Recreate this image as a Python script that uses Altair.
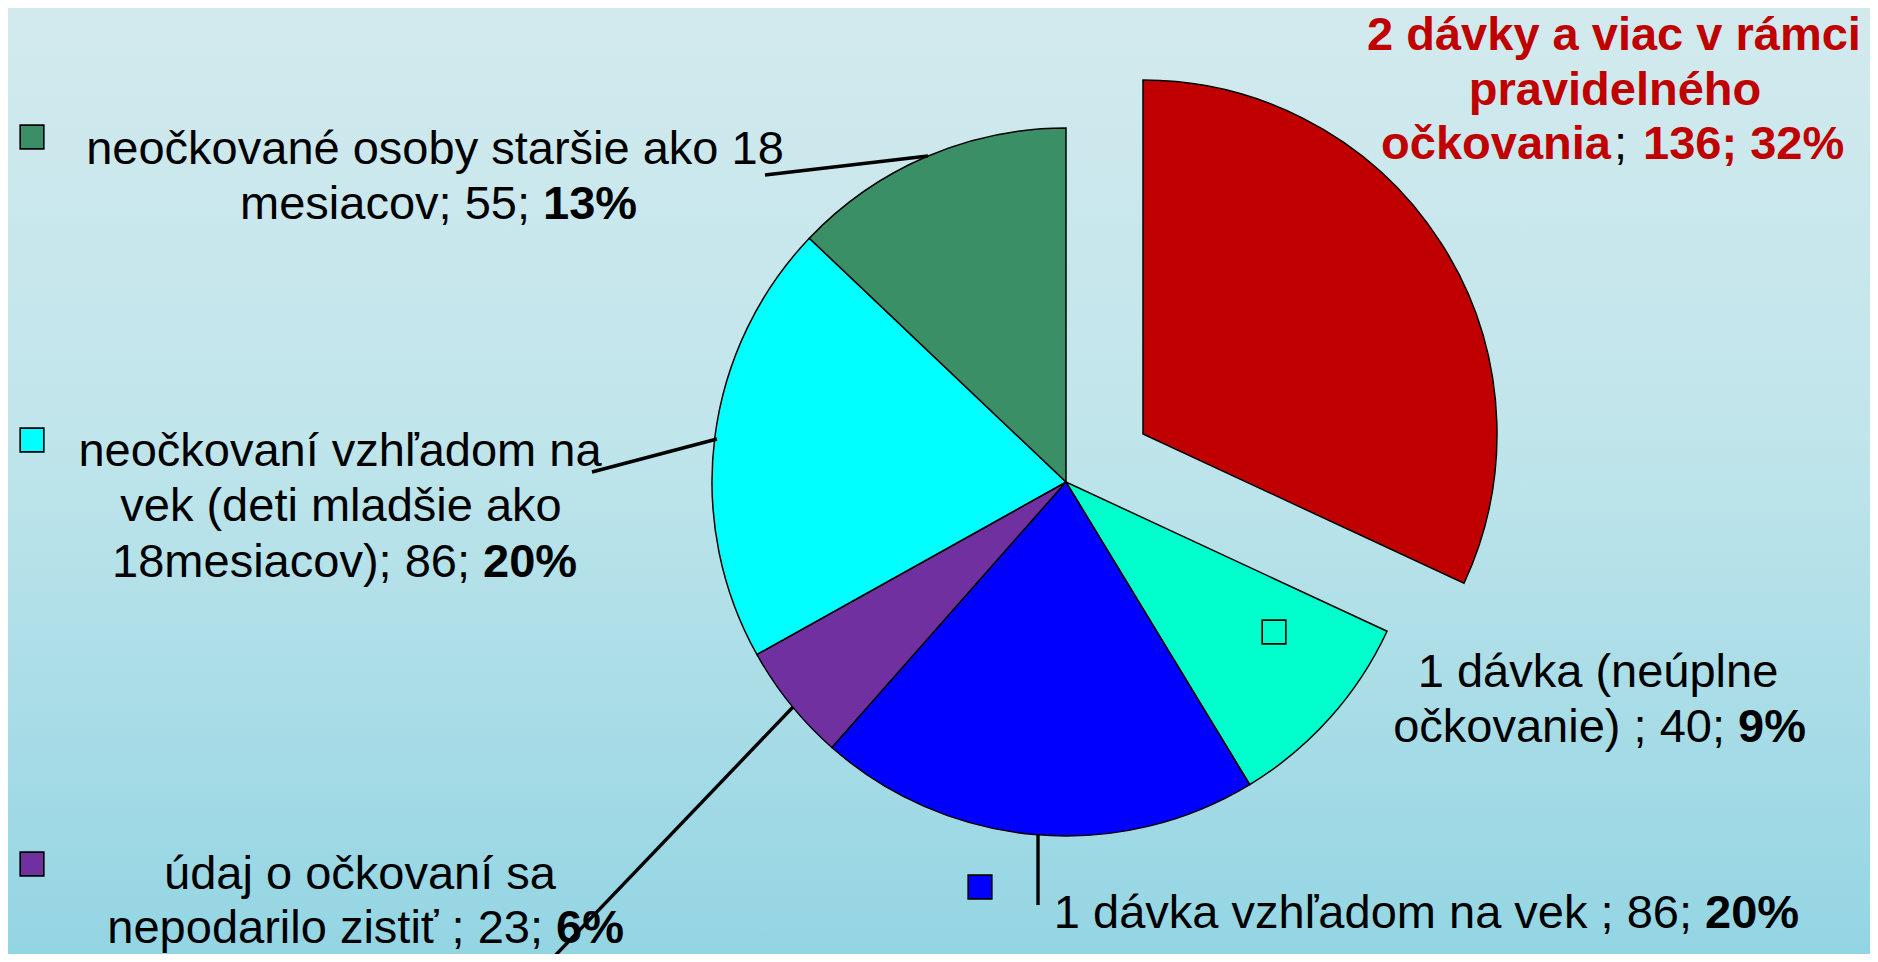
import altair as alt
import pandas as pd

# ---------------- data ----------------
CATEGORIES = [
    "2 dávky a viac v rámci pravidelného očkovania",
    "1 dávka (neúplne očkovanie)",
    "1 dávka vzhľadom na vek",
    "údaj o očkovaní sa nepodarilo zistiť",
    "neočkovaní vzhľadom na vek (deti mladšie ako 18mesiacov)",
    "neočkované osoby staršie ako 18 mesiacov",
]
COUNTS = [136, 40, 86, 23, 86, 55]
PERCENTS = ["32%", "9%", "20%", "6%", "20%", "13%"]
COLORS = ["#C00000", "#00FFCC", "#0000FF", "#7030A0", "#00FFFF", "#3A8F66"]

# ---------------- layout (page pixel coordinates) ----------------
MARGIN = 8
W, H = 1862, 946
FONT = "Liberation Sans"
FS = 47
CX, CY, R = 1066, 482, 354
EXPLODE_DX, EXPLODE_DY = 77, -48

# legend-key squares (centre x, centre y) per category, same order as CATEGORIES
KEY_POS = [None, (1274, 632), (980, 887), (32, 864), (32, 440), (32, 137)]

# label segments: text, x, y(baseline), align, weight, colour
SEGMENTS = [
    ("2 dávky a viac v rámci", 1614, 50, "center", "bold", "#C00000"),
    ("pravidelného", 1615, 105, "center", "bold", "#C00000"),
    ("očkovania", 1611, 159, "right", "bold", "#C00000"),
    (";", 1614, 159, "left", "normal", "#000000"),
    (f"{COUNTS[0]}; {PERCENTS[0]}", 1643, 159, "left", "bold", "#C00000"),

    ("1 dávka (neúplne", 1598, 687, "center", "normal", "#000000"),
    (f"očkovanie) ; {COUNTS[1]};", 1725, 742, "right", "normal", "#000000"),
    (PERCENTS[1], 1738, 742, "left", "bold", "#000000"),

    (f"1 dávka vzhľadom na vek ; {COUNTS[2]};", 1692, 928, "right", "normal", "#000000"),
    (PERCENTS[2], 1705, 928, "left", "bold", "#000000"),

    ("údaj o očkovaní sa", 360, 889, "center", "normal", "#000000"),
    (f"nepodarilo zistiť ; {COUNTS[3]};", 543, 943, "right", "normal", "#000000"),
    (PERCENTS[3], 556, 943, "left", "bold", "#000000"),

    ("neočkovaní vzhľadom na", 340, 466, "center", "normal", "#000000"),
    ("vek (deti mladšie ako", 341, 521, "center", "normal", "#000000"),
    (f"18mesiacov); {COUNTS[4]};", 470, 577, "right", "normal", "#000000"),
    (PERCENTS[4], 483, 577, "left", "bold", "#000000"),

    ("neočkované osoby staršie ako 18", 435, 164, "center", "normal", "#000000"),
    (f"mesiacov; {COUNTS[5]};", 530, 219, "right", "normal", "#000000"),
    (PERCENTS[5], 543, 219, "left", "bold", "#000000"),
]

# leader lines: x1, y1, x2, y2
LEADERS = [
    (765, 175, 928, 156),
    (592, 472, 717, 439),
    (793, 707, 549, 962),
    (1038, 835, 1038, 905),
]

# ---------------- build ----------------
df = pd.DataFrame({
    "category": CATEGORIES,
    "count": COUNTS,
    "order": list(range(len(CATEGORIES))),
})

color_scale = alt.Scale(domain=CATEGORIES, range=COLORS)

background = alt.Chart(pd.DataFrame({"a": [0]})).mark_rect(
    fill=alt.Gradient(
        gradient="linear",
        stops=[
            alt.GradientStop(color="#d2eaee", offset=0),
            alt.GradientStop(color="#c0e5eb", offset=0.45),
            alt.GradientStop(color="#94d5e3", offset=1),
        ],
        x1=0, x2=0, y1=0, y2=1,
    )
).encode(x=alt.value(0), x2=alt.value(W), y=alt.value(0), y2=alt.value(H))

base = (
    alt.Chart(df)
    .transform_window(cum="sum(count)", sort=[alt.SortField("order")])
    .transform_joinaggregate(total="sum(count)")
    .transform_calculate(
        t0="(datum.cum - datum.count) / datum.total * 2 * PI",
        t1="datum.cum / datum.total * 2 * PI",
    )
)

enc = dict(
    theta=alt.Theta("t0:Q", scale=None),
    theta2=alt.Theta2("t1:Q"),
    color=alt.Color("category:N", scale=color_scale, legend=None),
    x=alt.value(CX - MARGIN),
    y=alt.value(CY - MARGIN),
)

pie_rest = base.transform_filter("datum.order > 0").mark_arc(
    outerRadius=R, stroke="black", strokeWidth=1.5, opacity=1
).encode(**enc)

pie_red = base.transform_filter("datum.order == 0").mark_arc(
    outerRadius=R, stroke="black", strokeWidth=1.5, opacity=1,
    xOffset=EXPLODE_DX, yOffset=EXPLODE_DY,
).encode(**enc)

keys_df = pd.DataFrame([
    {"category": CATEGORIES[i], "x": p[0] - MARGIN, "y": p[1] - MARGIN}
    for i, p in enumerate(KEY_POS) if p is not None
])
keys = alt.Chart(keys_df).mark_square(
    size=560, stroke="black", strokeWidth=1.6, opacity=1, filled=True
).encode(
    x=alt.X("x:Q", scale=None),
    y=alt.Y("y:Q", scale=None),
    color=alt.Color("category:N", scale=color_scale, legend=None),
)

seg_df = pd.DataFrame(SEGMENTS, columns=["text", "x", "y", "align", "weight", "color"])
seg_df["x"] = seg_df["x"] - MARGIN
seg_df["y"] = seg_df["y"] - MARGIN

text_layers = []
for (al, wt), sub in seg_df.groupby(["align", "weight"]):
    text_layers.append(
        alt.Chart(sub).mark_text(
            align=al, baseline="alphabetic", font=FONT, fontSize=FS, fontWeight=wt
        ).encode(
            x=alt.X("x:Q", scale=None),
            y=alt.Y("y:Q", scale=None),
            text="text:N",
            color=alt.Color("color:N", scale=None),
        )
    )

lead_df = pd.DataFrame(LEADERS, columns=["x1", "y1", "x2", "y2"]) - MARGIN
leaders = alt.Chart(lead_df).mark_rule(color="black", strokeWidth=3.4).encode(
    x=alt.X("x1:Q", scale=None),
    y=alt.Y("y1:Q", scale=None),
    x2="x2:Q",
    y2="y2:Q",
)

chart = alt.layer(
    background, pie_rest, pie_red, keys, *text_layers, leaders
).properties(
    width=W, height=H, padding=0, autosize=alt.AutoSizeParams(type="none"),
    background="#c4e4ea",
).configure_view(stroke=None)

chart.save("out.html", embed_options={"renderer": "svg", "actions": False})
